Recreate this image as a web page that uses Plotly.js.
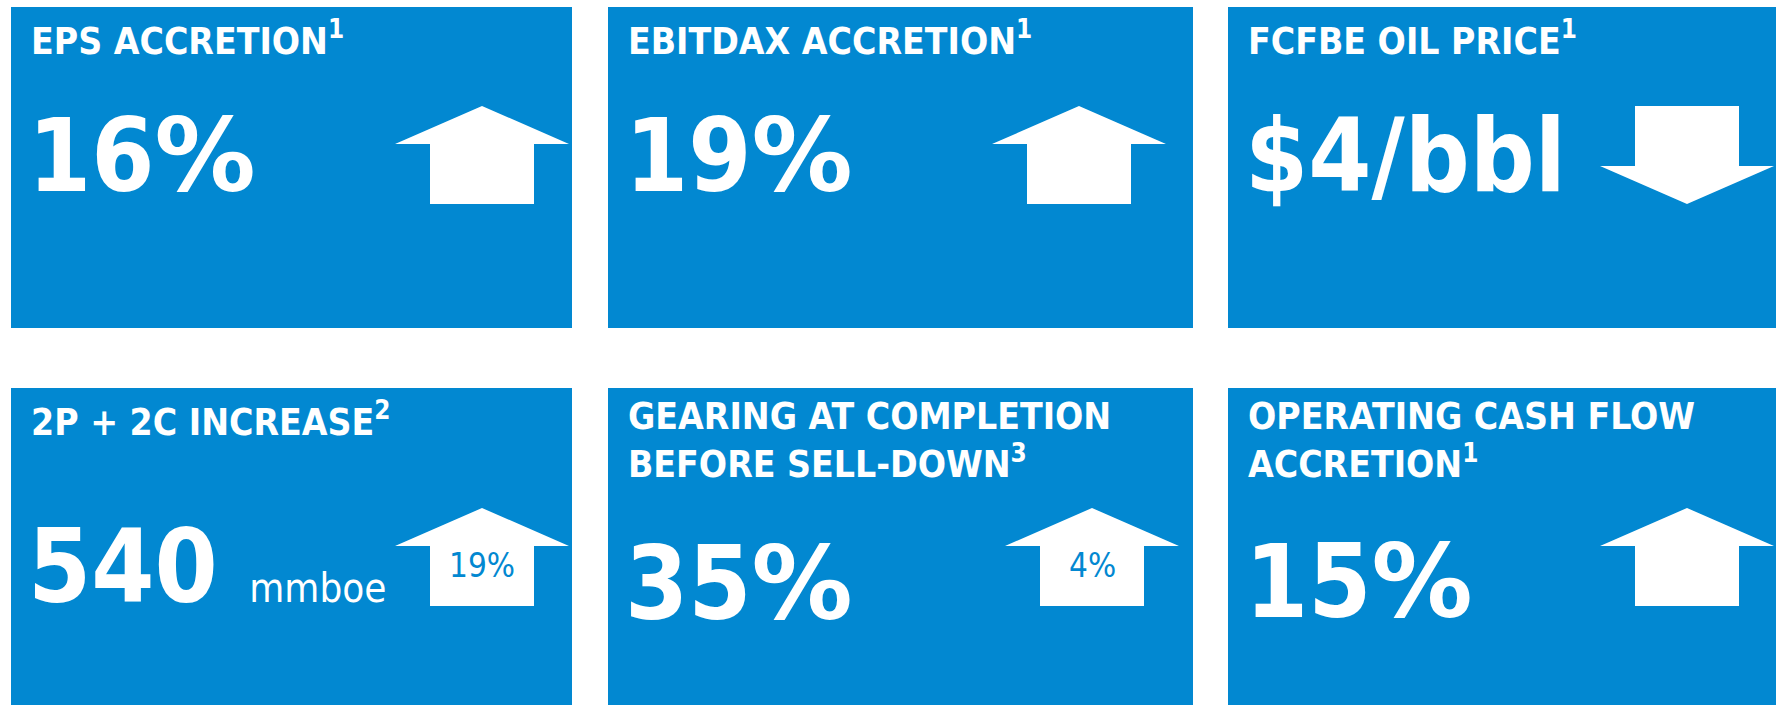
<!DOCTYPE html>
<html>
<head>
<meta charset="utf-8">
<script src="https://cdn.plot.ly/plotly-3.0.1.min.js"></script>
<style>
html,body{margin:0;padding:0;background:#fff;}
#graph{width:1776px;height:705px;}
</style>
</head>
<body>
<div id="graph"></div>
<script>
// tile content
const titles = [
  'EPS ACCRETION<sup>1</sup>',
  'EBITDAX ACCRETION<sup>1</sup>',
  'FCFBE OIL PRICE<sup>1</sup>',
  '2P + 2C INCREASE<sup>2</sup>',
  'GEARING AT COMPLETION<br>BEFORE SELL-DOWN<sup>3</sup>',
  'OPERATING CASH FLOW<br>ACCRETION<sup>1</sup>'
];
const values = ['16%', '19%', '$4/bbl', '540', '35%', '15%'];
const units = ['', '', '', 'mmboe', '', ''];
const changes = ['', '', '', '19%', '4%', ''];
const directions = ['up', 'up', 'down', 'up', 'up', 'up'];

// layout (pixel grid)
const colLeft = [11, 608, 1228];
const colRight = [572, 1193, 1800];
const rowTop = [7, 388];
const rowBottom = [328, 720];
const arrowCx = [482, 1079, 1687, 482, 1092, 1687];
const valueBase = [191, 191, 191, 602, 619, 617];

const blue = '#0288d1';
const font = 'DejaVu Sans Condensed, DejaVu Sans, sans-serif';

let shapes = [];
let annotations = [];
let traces = [];

for(let i=0;i<titles.length;i++){

    let c = i % 3;
    let r = Math.floor(i / 3);
    let x0 = colLeft[c];
    let x1 = colRight[c];
    let y0 = rowTop[r];
    let y1 = rowBottom[r];

    shapes.push({
        type:'rect', xref:'x', yref:'y',
        x0:x0, x1:x1, y0:y0, y1:y1,
        fillcolor:blue, line:{width:0}, layer:'below'
    });

    annotations.push({
        x:x0 + 18, y:y0 + 5, xref:'x', yref:'y',
        xanchor:'left', yanchor:'top', align:'left',
        text:titles[i], showarrow:false,
        font:{family:font, size:37, color:'#fff', weight:'bold'}
    });

    // wider percent sign, closer to the original face
    let label = values[i].replace('%', '<span style="font-family:DejaVu Sans">%</span>');
    if(units[i]){
        label += ' <span style="font-size:40px;font-weight:normal">' + units[i] + '</span>';
    }
    annotations.push({
        x:x0 + 15, y:valueBase[i] - 35, xref:'x', yref:'y',
        xanchor:'left', yanchor:'middle', align:'left',
        text:label, showarrow:false,
        font:{family:font, size:101, color:'#fff', weight:'bold'}
    });

    // arrow
    let cx = arrowCx[i];
    let top = y0 + (r === 0 ? 99 : 120);
    let hw = 87, bw = 52, hh = 38, h = 98;
    let ax, ay;
    if(directions[i] === 'up'){
        ax = [cx, cx+hw, cx+bw, cx+bw, cx-bw, cx-bw, cx-hw, cx];
        ay = [top, top+hh, top+hh, top+h, top+h, top+hh, top+hh, top];
    } else {
        ax = [cx-bw, cx+bw, cx+bw, cx+hw, cx, cx-hw, cx-bw, cx-bw];
        ay = [top, top, top+h-hh, top+h-hh, top+h, top+h-hh, top+h-hh, top];
    }
    traces.push({
        x:ax, y:ay, type:'scatter', mode:'lines',
        fill:'toself', fillcolor:'#fff',
        line:{width:0, color:'#fff'}, hoverinfo:'skip', showlegend:false
    });

    if(changes[i]){
        annotations.push({
            x:cx, y:top + hh + 19, xref:'x', yref:'y',
            xanchor:'center', yanchor:'middle',
            text:changes[i], showarrow:false,
            font:{family:font, size:33, color:blue}
        });
    }
}

Plotly.newPlot('graph', traces, {
    width:1776,
    height:705,
    margin:{l:0, r:0, t:0, b:0},
    paper_bgcolor:'#fff',
    plot_bgcolor:'#fff',
    xaxis:{range:[0,1776], visible:false, fixedrange:true},
    yaxis:{range:[705,0], visible:false, fixedrange:true},
    shapes:shapes,
    annotations:annotations,
    showlegend:false
}, {staticPlot:true});
</script>
</body>
</html>
